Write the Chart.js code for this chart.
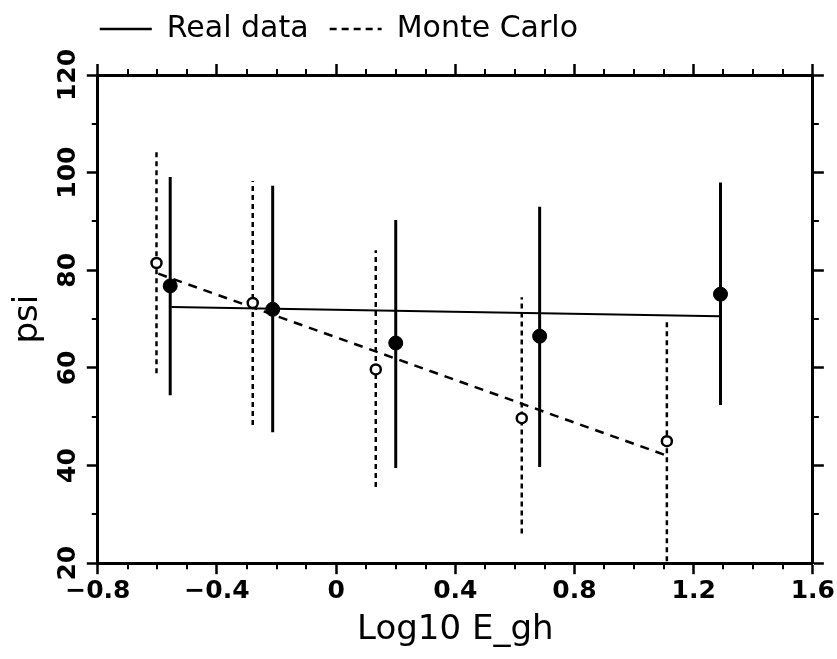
<!DOCTYPE html>
<html>
<head>
<meta charset="utf-8">
<script src="https://cdn.jsdelivr.net/npm/chart.js@4.4.1/dist/chart.umd.min.js"></script>
<style>
  body { margin: 0; background: #fff; }
  #wrap { width: 837px; height: 659px; }
</style>
</head>
<body>
<div id="wrap"><canvas id="myChart"></canvas></div>
<script>
// values
const realX  = [-0.557, -0.213, 0.200, 0.683, 1.290];
const realY  = [76.8, 72.0, 65.1, 66.5, 75.1];
const realLo = [54.4, 46.8, 39.5, 39.7, 52.4];
const realHi = [99.1, 97.3, 90.3, 93.0, 98.0];

const mcX  = [-0.603, -0.280, 0.133, 0.623, 1.110];
const mcY  = [81.5, 73.3, 59.7, 49.7, 45.0];
const mcLo = [58.9, 48.3, 35.6, 26.1, 13.0];
const mcHi = [105.0, 98.3, 84.1, 74.5, 69.4];

const realFitX = [-0.553, 1.287];
const realFitY = [72.5, 70.6];
const mcFitX = [-0.597, 1.107];
const mcFitY = [79.3, 42.1];

const xTicks = [-0.8, -0.4, 0, 0.4, 0.8, 1.2, 1.6];
const yTicks = [20, 40, 60, 80, 100, 120];

const pts = (xs, ys) => xs.map((x, i) => ({ x: x, y: ys[i] }));
const bars = (xs, lo, hi) => xs.flatMap((x, i) => [{ x: x, y: lo[i] }, { x: x, y: hi[i] }, { x: x, y: null }]);

const fmt = v => (Math.abs(v) < 1e-9 ? '0' : String(+v.toFixed(1))).replace('-', '\u2212');

const tickFont = { family: 'DejaVu Sans', size: 25, weight: 'bold' };

// short ticks between the labelled ones, on all four sides
const minorTicks = {
  id: 'minorTicks',
  afterDraw(chart) {
    const ctx = chart.ctx;
    const a = chart.chartArea;
    const sx = chart.scales.x, sy = chart.scales.y;
    ctx.save();
    ctx.strokeStyle = '#000';
    ctx.lineWidth = 2;
    ctx.beginPath();
    for (let v = -0.7; v < 1.6; v += 0.1) {
      if (Math.abs(v / 0.4 - Math.round(v / 0.4)) < 1e-6) continue;
      const px = Math.round(sx.getPixelForValue(v));
      ctx.moveTo(px, a.bottom); ctx.lineTo(px, a.bottom + 6);
      ctx.moveTo(px, a.top); ctx.lineTo(px, a.top - 6);
    }
    for (let v = 30; v < 120; v += 20) {
      const py = Math.round(sy.getPixelForValue(v));
      ctx.moveTo(a.left, py); ctx.lineTo(a.left - 6, py);
      ctx.moveTo(a.right, py); ctx.lineTo(a.right + 6, py);
    }
    ctx.stroke();
    ctx.restore();
  }
};

const ctx = document.getElementById('myChart').getContext('2d');
new Chart(ctx, {
  type: 'line',
  data: {
    datasets: [
      {
        label: 'Real data',
        data: pts(realFitX, realFitY),
        borderColor: '#000',
        borderWidth: 2,
        pointRadius: 0,
        order: 2
      },
      {
        label: 'Monte Carlo',
        data: pts(mcFitX, mcFitY),
        borderColor: '#000',
        borderWidth: 2.5,
        borderDash: [9, 7],
        pointRadius: 0,
        order: 2
      },
      {
        label: 'realErr',
        data: bars(realX, realLo, realHi),
        borderColor: '#000',
        borderWidth: 3,
        pointRadius: 0,
        spanGaps: false,
        order: 1
      },
      {
        label: 'mcErr',
        data: bars(mcX, mcLo, mcHi),
        borderColor: '#000',
        borderWidth: 2.5,
        borderDash: [5, 4],
        pointRadius: 0,
        spanGaps: false,
        order: 1
      },
      {
        type: 'scatter',
        label: 'realPts',
        data: pts(realX, realY),
        backgroundColor: '#000',
        borderColor: '#000',
        pointRadius: 7,
        order: 0
      },
      {
        type: 'scatter',
        label: 'mcPts',
        data: pts(mcX, mcY),
        backgroundColor: '#fff',
        borderColor: '#000',
        borderWidth: 2.5,
        pointRadius: 5,
        order: 0
      }
    ]
  },
  options: {
    responsive: true,
    maintainAspectRatio: false,
    animation: false,
    layout: { padding: { top: 12, right: 7, left: 8, bottom: 8 } },
    plugins: {
      legend: {
        position: 'top',
        align: 'start',
        fullSize: false,
        labels: {
          color: '#000',
          font: { family: 'DejaVu Sans', size: 30 },
          usePointStyle: true,
          pointStyle: 'line',
          pointStyleWidth: 52,
          padding: 2,
          filter: item => item.datasetIndex < 2,
          generateLabels: chart => Chart.defaults.plugins.legend.labels.generateLabels(chart).map(it => {
            const ds = chart.data.datasets[it.datasetIndex];
            it.lineDash = ds.borderDash ? [7, 5] : [];
            it.lineWidth = 2.5;
            if (it.datasetIndex === 0) it.text += '  ';
            return it;
          })
        }
      },
      tooltip: { enabled: false }
    },
    scales: {
      x: {
        type: 'linear',
        position: 'bottom',
        min: -0.8,
        max: 1.6,
        afterBuildTicks: s => { s.ticks = xTicks.map(v => ({ value: v })); },
        border: { display: true, color: '#000', width: 3 },
        grid: { drawOnChartArea: false, drawTicks: true, tickLength: 11, tickWidth: 2.5, tickColor: '#000' },
        ticks: { color: '#000', font: tickFont, padding: 2, maxRotation: 0, callback: v => fmt(v) },
        title: { display: true, text: 'Log10 E_gh', color: '#000', font: { family: 'DejaVu Sans', size: 34 }, padding: { top: 2, bottom: 0 } }
      },
      x2: {
        type: 'linear',
        position: 'top',
        min: -0.8,
        max: 1.6,
        afterBuildTicks: s => { s.ticks = xTicks.map(v => ({ value: v })); },
        afterFit: s => { s.height += 10; },
        border: { display: true, color: '#000', width: 3 },
        grid: { drawOnChartArea: false, drawTicks: true, tickLength: 11, tickWidth: 2.5, tickColor: '#000' },
        ticks: { display: false }
      },
      y: {
        type: 'linear',
        position: 'left',
        min: 20,
        max: 120,
        afterBuildTicks: s => { s.ticks = yTicks.map(v => ({ value: v })); },
        border: { display: true, color: '#000', width: 3 },
        grid: { drawOnChartArea: false, drawTicks: true, tickLength: 11, tickWidth: 2.5, tickColor: '#000' },
        ticks: { color: '#000', font: tickFont, minRotation: 90, maxRotation: 90, crossAlign: 'center', padding: -8, callback: v => fmt(v) },
        title: { display: true, text: 'psi', color: '#000', font: { family: 'DejaVu Sans', size: 34 }, padding: { top: 0, bottom: 24 } }
      },
      y2: {
        type: 'linear',
        position: 'right',
        min: 20,
        max: 120,
        afterBuildTicks: s => { s.ticks = yTicks.map(v => ({ value: v })); },
        border: { display: true, color: '#000', width: 3 },
        grid: { drawOnChartArea: false, drawTicks: true, tickLength: 11, tickWidth: 2.5, tickColor: '#000' },
        ticks: { display: false }
      }
    }
  },
  plugins: [minorTicks]
});
</script>
</body>
</html>
